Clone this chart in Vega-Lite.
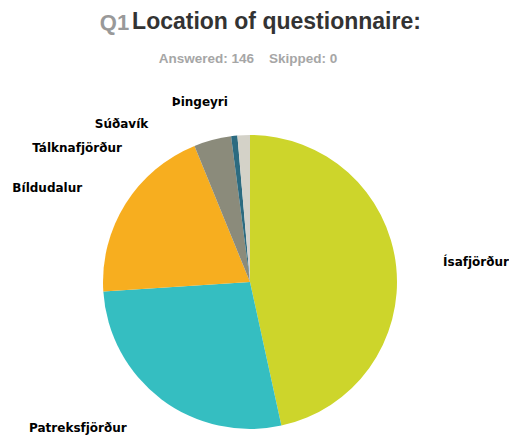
{
  "$schema": "https://vega.github.io/schema/vega-lite/v6.json",
  "padding": {"top": 10, "left": 0, "right": 0, "bottom": 0},
  "background": "white",
  "config": {"view": {"stroke": null}, "concat": {"spacing": 0}},
  "title": {
    "text": "Q1",
    "font": "Liberation Sans",
    "fontSize": 22,
    "fontWeight": "bold",
    "color": "#999999",
    "anchor": "middle",
    "dx": -140,
    "dy": 24,
    "offset": 0
  },
  "vconcat": [
    {
      "title": {
        "text": "Location of questionnaire:",
        "font": "Liberation Sans",
        "fontSize": 23,
        "fontWeight": "bold",
        "color": "#333333",
        "anchor": "middle",
        "dx": 22,
        "offset": 18
      },
      "vconcat": [
        {
          "width": 500,
          "height": 298,
          "title": {
            "text": "Answered: 146\u00a0\u00a0\u00a0\u00a0Skipped: 0",
            "font": "Liberation Sans",
            "fontSize": 13.5,
            "fontWeight": "bold",
            "color": "#a6a6a6",
            "anchor": "middle",
            "dx": -2,
            "offset": 31
          },
          "data": {
            "values": [
              {"location": "Ísafjörður", "count": 68, "rank": 1},
              {"location": "Patreksfjörður", "count": 40, "rank": 2},
              {"location": "Bíldudalur", "count": 29, "rank": 3},
              {"location": "Tálknafjörður", "count": 6, "rank": 4},
              {"location": "Súðavík", "count": 1, "rank": 5},
              {"location": "Þingeyri", "count": 2, "rank": 6}
            ]
          },
          "encoding": {
            "theta": {"field": "count", "type": "quantitative", "stack": true},
            "order": {"field": "rank", "type": "quantitative"},
            "detail": {"field": "location", "type": "nominal"}
          },
          "layer": [
            {
              "mark": {"type": "arc", "outerRadius": 147, "strokeWidth": 0},
              "encoding": {
                "color": {
                  "field": "location",
                  "type": "nominal",
                  "scale": {
                    "domain": ["Ísafjörður", "Patreksfjörður", "Bíldudalur", "Tálknafjörður", "Súðavík", "Þingeyri"],
                    "range": ["#cdd52b", "#35bec1", "#f7ae1f", "#8b8b7b", "#2c6b80", "#d4d2c8"]
                  },
                  "legend": null
                }
              }
            },
            {
              "mark": {"type": "text", "radius": 165, "align": "left", "baseline": "middle", "dx": 29, "dy": -2, "font": "DejaVu Sans", "fontWeight": "bold", "fontSize": 12, "color": "#000000"},
              "encoding": {"text": {"condition": {"test": "datum.location === 'Ísafjörður'", "field": "location", "type": "nominal"}, "value": ""}}
            },
            {
              "mark": {"type": "text", "radius": 165, "align": "right", "baseline": "middle", "dx": -24, "dy": 14, "font": "DejaVu Sans", "fontWeight": "bold", "fontSize": 12, "color": "#000000"},
              "encoding": {"text": {"condition": {"test": "datum.location === 'Patreksfjörður'", "field": "location", "type": "nominal"}, "value": ""}}
            },
            {
              "mark": {"type": "text", "radius": 165, "align": "right", "baseline": "middle", "dx": -28, "dy": -6, "font": "DejaVu Sans", "fontWeight": "bold", "fontSize": 12, "color": "#000000"},
              "encoding": {"text": {"condition": {"test": "datum.location === 'Bíldudalur'", "field": "location", "type": "nominal"}, "value": ""}}
            },
            {
              "mark": {"type": "text", "radius": 165, "align": "right", "baseline": "middle", "dx": -86, "dy": 26, "font": "DejaVu Sans", "fontWeight": "bold", "fontSize": 12, "color": "#000000"},
              "encoding": {"text": {"condition": {"test": "datum.location === 'Tálknafjörður'", "field": "location", "type": "nominal"}, "value": ""}}
            },
            {
              "mark": {"type": "text", "radius": 165, "align": "right", "baseline": "middle", "dx": -84, "dy": 6, "font": "DejaVu Sans", "fontWeight": "bold", "fontSize": 12, "color": "#000000"},
              "encoding": {"text": {"condition": {"test": "datum.location === 'Súðavík'", "field": "location", "type": "nominal"}, "value": ""}}
            },
            {
              "mark": {"type": "text", "radius": 165, "align": "right", "baseline": "middle", "dx": -15, "dy": -15, "font": "DejaVu Sans", "fontWeight": "bold", "fontSize": 12, "color": "#000000"},
              "encoding": {"text": {"condition": {"test": "datum.location === 'Þingeyri'", "field": "location", "type": "nominal"}, "value": ""}}
            }
          ]
        }
      ]
    }
  ]
}
